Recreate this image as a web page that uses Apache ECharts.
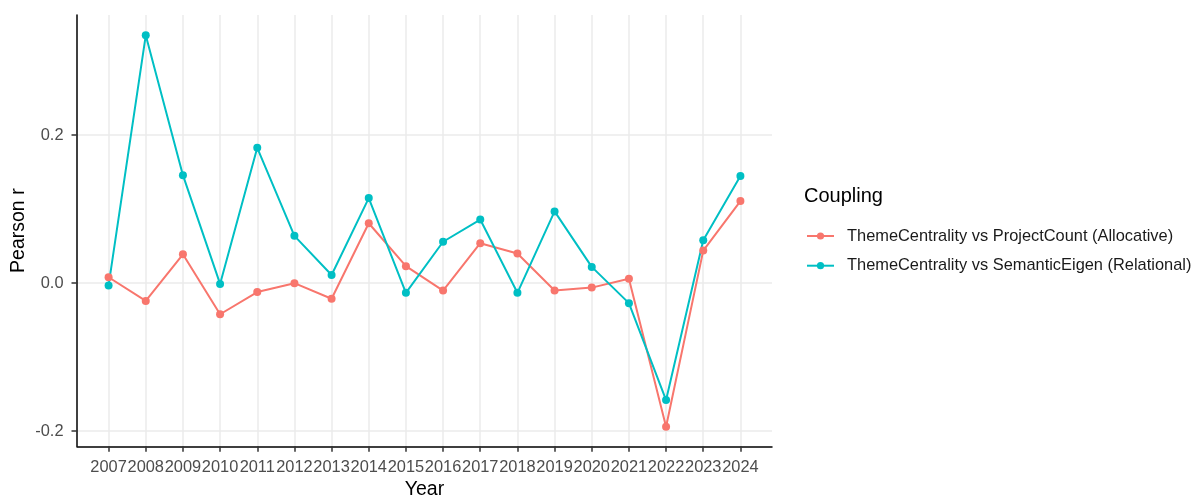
<!DOCTYPE html>
<html>
<head>
<meta charset="utf-8">
<script src="https://cdn.jsdelivr.net/npm/echarts@6/dist/echarts.min.js"></script>
<style>html,body{margin:0;padding:0;background:#fff}#c{width:1198px;height:498px}</style>
</head>
<body>
<div id="c"></div>
<script>
const years = [2007,2008,2009,2010,2011,2012,2013,2014,2015,2016,2017,2018,2019,2020,2021,2022,2023,2024];
const allocative = [0.008,-0.024,0.039,-0.042,-0.012,0.000,-0.021,0.081,0.023,-0.010,0.054,0.040,-0.010,-0.006,0.006,-0.194,0.044,0.111];
const relational = [-0.003,0.335,0.146,-0.001,0.183,0.064,0.011,0.115,-0.013,0.056,0.086,-0.013,0.097,0.022,-0.027,-0.158,0.058,0.145];
const yTicks = [-0.2,0.0,0.2];
const seriesNames = ['ThemeCentrality vs ProjectCount (Allocative)','ThemeCentrality vs SemanticEigen (Relational)'];
const colors = ['#F8766D','#00BFC4'];

const FONT = '"Liberation Sans", Arial, sans-serif';
const chart = echarts.init(document.getElementById('c'), null, {renderer:'canvas'});
const mk = (name, vals, color) => ({
  name, type:'line', data: years.map((y,i)=>[y, vals[i]]),
  symbol:'circle', symbolSize:8, showSymbol:true,
  lineStyle:{color, width:2}, itemStyle:{color}, animation:false
});
chart.setOption({
  animation:false,
  textStyle:{fontFamily:FONT},
  title:{text:'Coupling', left:799, top:181, textStyle:{fontFamily:FONT, fontSize:20, fontWeight:'normal', color:'#000'}},
  legend:{
    orient:'vertical', left:801, top:223, itemWidth:27, itemHeight:9, itemGap:13.7,
    textStyle:{fontFamily:FONT, fontSize:16.4, lineHeight:16, color:'#1a1a1a', padding:[0,0,0,8]},
    data: seriesNames
  },
  grid:{left:77, right:426, top:15, bottom:51.7, containLabel:false, outerBoundsMode:'none'},
  xAxis:{
    type:'value', min:2006.15, max:2024.85,
    name:'Year', nameLocation:'middle', nameGap:33, nameMoveOverlap:false,
    nameTextStyle:{fontFamily:FONT, fontSize:19.5, color:'#000'},
    axisLine:{show:true, onZero:false, lineStyle:{color:'#000', width:1.5}},
    axisTick:{show:true, length:5.5, customValues:years, lineStyle:{color:'#333', width:1.5}},
    axisLabel:{customValues:years, fontFamily:FONT, fontSize:16.4, color:'#4d4d4d', margin:13.5, formatter:v=>String(v)},
    splitLine:{show:true, lineStyle:{color:'#ebebeb', width:1.5}}
  },
  yAxis:{
    type:'value', min:-0.2205, max:0.3625,
    name:'Pearson r', nameLocation:'middle', nameGap:48, nameRotate:90, nameMoveOverlap:false,
    nameTextStyle:{fontFamily:FONT, fontSize:19.5, color:'#000'},
    axisLine:{show:true, onZero:false, lineStyle:{color:'#000', width:1.5}},
    axisTick:{show:true, length:5.5, customValues:yTicks, lineStyle:{color:'#333', width:1.5}},
    axisLabel:{customValues:yTicks, fontFamily:FONT, fontSize:16.4, color:'#4d4d4d', margin:13.5, formatter:v=>v.toFixed(1)},
    splitLine:{show:true, lineStyle:{color:'#ebebeb', width:1.5}}
  },
  series:[mk(seriesNames[0], allocative, colors[0]), mk(seriesNames[1], relational, colors[1])]
});
</script>
</body>
</html>
